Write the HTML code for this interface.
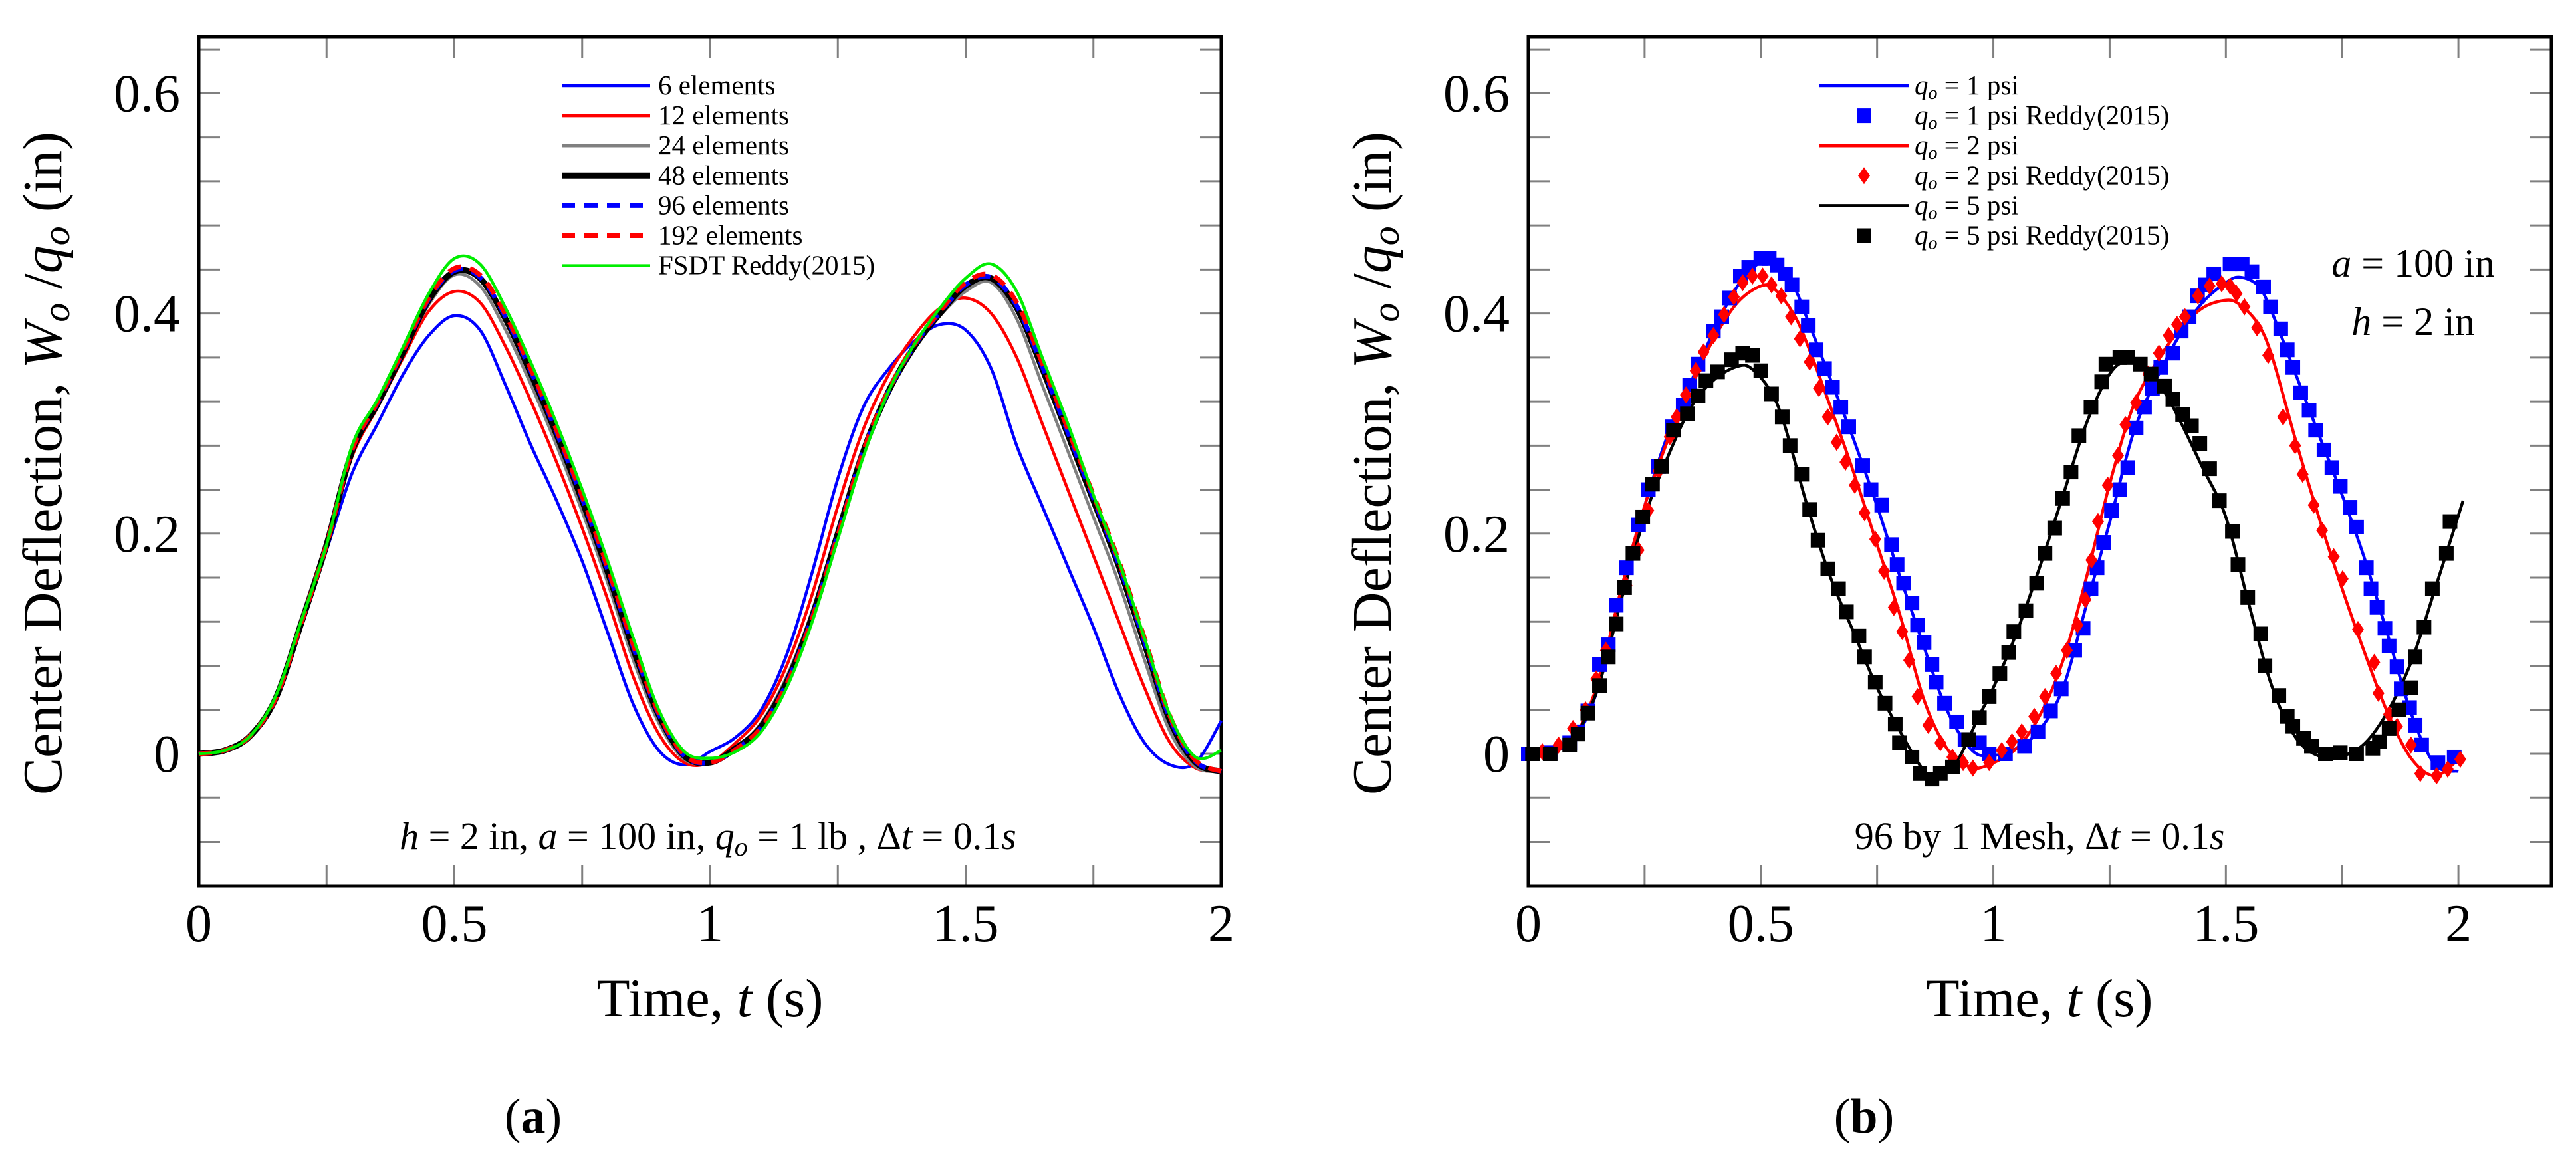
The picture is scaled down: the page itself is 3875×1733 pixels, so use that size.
<!DOCTYPE html>
<html><head><meta charset="utf-8">
<style>
html,body{margin:0;padding:0;background:#fff;}
svg{display:block;font-family:"Liberation Serif",serif;}
</style></head>
<body>
<svg id="fig" width="3875" height="1733" viewBox="0 0 3875 1733" xmlns="http://www.w3.org/2000/svg">
<rect width="3875" height="1733" fill="#fff"/>
<g id="panelA"></g>
<g id="panelB"></g>
</svg>
<script>
// ---------- Panel (a) data ----------
const tGridA = [0,0.05,0.1,0.15,0.2,0.25,0.3,0.35,0.4,0.45,0.5,0.55,0.6,0.65,0.7,0.75,0.8,0.85,0.9,0.95,1.0,1.05,1.1,1.15,1.2,1.25,1.3,1.35,1.4,1.45,1.5,1.55,1.6,1.65,1.7,1.75,1.8,1.85,1.9,1.95,2.0];
const w6 = [0,0.003,0.016,0.05,0.118,0.185,0.255,0.3,0.345,0.38,0.398,0.385,0.335,0.28,0.23,0.175,0.11,0.045,0.003,-0.01,0.002,0.015,0.04,0.09,0.165,0.25,0.315,0.35,0.375,0.39,0.385,0.35,0.28,0.225,0.17,0.115,0.055,0.01,-0.01,-0.008,0.03];
const w12 = [0,0.003,0.016,0.05,0.118,0.19,0.27,0.315,0.36,0.402,0.42,0.41,0.37,0.32,0.265,0.205,0.14,0.07,0.018,-0.008,-0.008,0.01,0.035,0.08,0.145,0.225,0.295,0.345,0.38,0.405,0.414,0.4,0.36,0.3,0.24,0.18,0.12,0.06,0.01,-0.013,-0.016];
const w24 = [0,0.003,0.016,0.05,0.118,0.19,0.275,0.318,0.363,0.408,0.435,0.425,0.385,0.335,0.28,0.22,0.155,0.085,0.028,-0.005,-0.008,0.005,0.028,0.07,0.13,0.205,0.278,0.33,0.37,0.398,0.42,0.428,0.395,0.335,0.275,0.215,0.155,0.085,0.02,-0.012,-0.016];
const w48 = [0,0.003,0.016,0.05,0.118,0.19,0.275,0.318,0.365,0.412,0.438,0.432,0.395,0.345,0.29,0.23,0.165,0.095,0.035,-0.002,-0.008,0.005,0.025,0.065,0.125,0.2,0.275,0.33,0.37,0.4,0.425,0.432,0.405,0.35,0.29,0.23,0.17,0.1,0.03,-0.008,-0.016];
const w96 = [0,0.003,0.016,0.05,0.118,0.19,0.276,0.319,0.366,0.413,0.439,0.433,0.397,0.347,0.292,0.232,0.167,0.097,0.036,-0.002,-0.008,0.004,0.024,0.064,0.124,0.199,0.275,0.33,0.371,0.401,0.426,0.433,0.407,0.352,0.292,0.232,0.172,0.102,0.032,-0.007,-0.016];
const w192 = [0,0.003,0.016,0.05,0.118,0.19,0.276,0.32,0.367,0.414,0.441,0.435,0.399,0.349,0.294,0.234,0.169,0.099,0.037,-0.001,-0.008,0.004,0.024,0.063,0.123,0.198,0.275,0.331,0.372,0.402,0.428,0.435,0.41,0.355,0.295,0.235,0.175,0.105,0.034,-0.006,-0.016];
const wFSDT = [0,0.003,0.016,0.052,0.12,0.19,0.28,0.322,0.37,0.418,0.45,0.445,0.405,0.355,0.3,0.24,0.175,0.105,0.04,0.002,-0.004,0.002,0.02,0.06,0.12,0.195,0.27,0.33,0.372,0.405,0.432,0.445,0.42,0.36,0.3,0.235,0.175,0.105,0.035,-0.003,0.003];

// ---------- Panel (b) data ----------
const tLineB = [0,0.05,0.1,0.15,0.2,0.25,0.3,0.35,0.4,0.45,0.5,0.53,0.57,0.6,0.65,0.7,0.75,0.8,0.85,0.9,0.95,0.99,1.05,1.1,1.15,1.2,1.25,1.3,1.35,1.4,1.45,1.5,1.53,1.57,1.6,1.65,1.7,1.75,1.8,1.85,1.9,1.95,2.0];
const wLine1 = [0,0.002,0.014,0.06,0.15,0.225,0.29,0.338,0.385,0.425,0.447,0.445,0.425,0.395,0.34,0.285,0.225,0.16,0.098,0.04,0.005,-0.002,0.005,0.022,0.06,0.135,0.21,0.29,0.34,0.38,0.41,0.428,0.433,0.425,0.4,0.345,0.29,0.235,0.175,0.105,0.035,-0.01,-0.016];
const wLine2 = [0,0.003,0.016,0.065,0.15,0.225,0.285,0.335,0.378,0.41,0.425,0.422,0.4,0.372,0.315,0.255,0.19,0.125,0.05,0.005,-0.012,-0.01,0.005,0.035,0.085,0.16,0.245,0.315,0.355,0.385,0.405,0.412,0.408,0.39,0.36,0.285,0.215,0.15,0.09,0.035,-0.005,-0.02,-0.005];
const tLine5 = [0,0.05,0.1,0.15,0.2,0.25,0.3,0.35,0.4,0.45,0.48,0.52,0.55,0.6,0.65,0.7,0.75,0.8,0.85,0.88,0.92,0.97,1.0,1.05,1.1,1.15,1.2,1.25,1.29,1.33,1.38,1.45,1.5,1.55,1.6,1.65,1.7,1.75,1.8,1.85,1.9,1.95,2.01];
const wLine5 = [0,0.003,0.016,0.06,0.14,0.215,0.27,0.315,0.34,0.352,0.35,0.33,0.3,0.225,0.16,0.11,0.06,0.02,-0.015,-0.02,-0.008,0.035,0.06,0.11,0.17,0.235,0.3,0.345,0.357,0.35,0.32,0.26,0.215,0.135,0.06,0.015,-0.002,-0.002,0.01,0.04,0.085,0.15,0.23];

const tMk1 = [0,0.047,0.089,0.107,0.128,0.153,0.172,0.189,0.211,0.237,0.258,0.28,0.309,0.333,0.347,0.365,0.398,0.416,0.433,0.456,0.474,0.5,0.518,0.535,0.553,0.567,0.588,0.602,0.619,0.637,0.654,0.672,0.689,0.719,0.737,0.76,0.781,0.793,0.807,0.825,0.837,0.851,0.868,0.877,0.895,0.921,0.939,0.97,0.991,1.026,1.067,1.096,1.123,1.146,1.175,1.193,1.21,1.223,1.237,1.254,1.272,1.289,1.307,1.325,1.342,1.36,1.386,1.404,1.421,1.439,1.456,1.474,1.509,1.535,1.556,1.581,1.596,1.618,1.632,1.644,1.661,1.679,1.693,1.711,1.728,1.746,1.767,1.781,1.802,1.812,1.825,1.842,1.851,1.868,1.877,1.895,1.907,1.921,1.956,1.991];
const wMk1 = [0,0.001,0.01,0.02,0.039,0.081,0.099,0.135,0.169,0.208,0.24,0.261,0.297,0.317,0.335,0.354,0.384,0.397,0.414,0.434,0.442,0.45,0.45,0.444,0.436,0.426,0.406,0.389,0.367,0.35,0.333,0.315,0.297,0.262,0.24,0.226,0.19,0.172,0.155,0.137,0.117,0.101,0.081,0.065,0.046,0.029,0.013,0.01,0,0,0.007,0.02,0.039,0.059,0.094,0.114,0.15,0.169,0.192,0.221,0.24,0.26,0.296,0.315,0.332,0.351,0.364,0.384,0.397,0.416,0.426,0.436,0.445,0.445,0.438,0.424,0.406,0.386,0.367,0.351,0.328,0.312,0.294,0.276,0.26,0.243,0.224,0.206,0.169,0.15,0.133,0.114,0.098,0.079,0.059,0.042,0.026,0.008,-0.008,-0.003];

const tMk2 = [0.03,0.065,0.096,0.123,0.146,0.167,0.188,0.211,0.237,0.258,0.28,0.304,0.319,0.339,0.36,0.377,0.398,0.421,0.442,0.461,0.482,0.504,0.523,0.544,0.565,0.584,0.605,0.625,0.644,0.663,0.682,0.702,0.723,0.746,0.765,0.786,0.804,0.819,0.837,0.86,0.886,0.912,0.935,0.956,0.991,1.018,1.04,1.061,1.088,1.111,1.135,1.158,1.181,1.198,1.211,1.225,1.246,1.268,1.284,1.307,1.333,1.356,1.377,1.395,1.412,1.44,1.465,1.491,1.509,1.523,1.54,1.567,1.591,1.623,1.649,1.665,1.689,1.707,1.732,1.751,1.784,1.819,1.828,1.851,1.868,1.898,1.918,1.953,1.977,2.004];
const wMk2 = [0.002,0.008,0.023,0.04,0.068,0.094,0.12,0.153,0.185,0.221,0.257,0.288,0.306,0.326,0.348,0.365,0.38,0.399,0.415,0.428,0.434,0.434,0.426,0.416,0.397,0.377,0.356,0.332,0.306,0.283,0.265,0.244,0.219,0.195,0.166,0.133,0.111,0.085,0.052,0.026,0.01,-0.003,-0.008,-0.013,-0.008,0.003,0.011,0.02,0.034,0.052,0.073,0.094,0.117,0.14,0.176,0.211,0.244,0.271,0.299,0.319,0.345,0.364,0.38,0.39,0.397,0.416,0.425,0.427,0.425,0.418,0.406,0.387,0.362,0.306,0.28,0.254,0.226,0.203,0.179,0.159,0.113,0.083,0.055,0.036,0.025,0.008,-0.018,-0.02,-0.014,-0.005];

const tMk5 = [0.009,0.047,0.089,0.107,0.128,0.153,0.172,0.189,0.207,0.225,0.246,0.267,0.286,0.312,0.342,0.365,0.382,0.407,0.437,0.461,0.482,0.5,0.523,0.546,0.563,0.588,0.605,0.623,0.644,0.667,0.684,0.711,0.723,0.746,0.767,0.789,0.798,0.825,0.842,0.868,0.886,0.912,0.947,0.97,0.991,1.014,1.033,1.044,1.07,1.093,1.111,1.132,1.149,1.167,1.184,1.21,1.233,1.242,1.272,1.289,1.316,1.339,1.368,1.386,1.407,1.426,1.444,1.465,1.486,1.514,1.526,1.547,1.575,1.584,1.614,1.632,1.644,1.667,1.684,1.714,1.746,1.781,1.816,1.83,1.851,1.872,1.898,1.907,1.926,1.944,1.974,1.982];
const wMk5 = [0,0,0.008,0.018,0.037,0.062,0.088,0.118,0.151,0.182,0.215,0.245,0.261,0.294,0.309,0.325,0.339,0.347,0.358,0.364,0.362,0.348,0.327,0.306,0.28,0.254,0.222,0.194,0.168,0.15,0.129,0.107,0.088,0.065,0.046,0.027,0.01,-0.003,-0.018,-0.023,-0.018,-0.012,0.013,0.033,0.052,0.073,0.092,0.111,0.13,0.155,0.182,0.205,0.232,0.256,0.289,0.315,0.338,0.354,0.36,0.36,0.354,0.345,0.334,0.322,0.308,0.298,0.282,0.259,0.23,0.202,0.172,0.142,0.109,0.08,0.053,0.034,0.025,0.014,0.007,0,0.001,0,0.005,0.011,0.023,0.04,0.06,0.088,0.115,0.15,0.182,0.211];

const yTickVals = [0,0.2,0.4,0.6];
const yTickLabels = ["0","0.2","0.4","0.6"];
const xTickVals = [0,0.5,1,1.5,2];
const xTickLabels = ["0","0.5","1","1.5","2"];

// ---------- helpers ----------
const NS = "http://www.w3.org/2000/svg";
function mk(tag, attrs, parent){ const e=document.createElementNS(NS,tag); for(const k in attrs) e.setAttribute(k,attrs[k]); parent.appendChild(e); return e; }

const Y0 = 1134, PXY = 1656;
function makeAxes(L, R, xmax){
  return { x: v => L + (R-L)*v/xmax, y: v => Y0 - PXY*v, L, R, T:55, B:1333 };
}
function drawFrame(g, ax, xmax){
  const tg = mk('g',{stroke:'#808080','stroke-width':3},g);
  
  
  for(let i=0;i*0.25<=xmax+1e-9;i++){
    const v=i*0.25, x=ax.x(v);
    mk('line',{x1:x,y1:ax.B,x2:x,y2:ax.B-32},tg);
    mk('line',{x1:x,y1:ax.T,x2:x,y2:ax.T+32},tg);
  }
  for(let i=-2;i<=16;i++){
    const v=i*0.04, y=ax.y(v);
    if(y<ax.T||y>ax.B) continue;
    mk('line',{x1:ax.L,y1:y,x2:ax.L+32,y2:y},tg);
    mk('line',{x1:ax.R,y1:y,x2:ax.R-32,y2:y},tg);
  }
  const fr = mk('rect',{x:ax.L,y:ax.T,width:ax.R-ax.L,height:ax.B-ax.T,fill:'none',stroke:'#000','stroke-width':5},g);
  
  
  xTickVals.forEach((v,i)=>{
    const t = mk('text',{x:ax.x(v),y:1416,'font-size':80,'text-anchor':'middle'},g);
    t.textContent = xTickLabels[i];
    
    
  });
  yTickVals.forEach((v,i)=>{
    const t = mk('text',{x:ax.L-28,y:ax.y(v)+27,'font-size':80,'text-anchor':'end'},g);
    t.textContent = yTickLabels[i];
    
    
  });
}
function smoothPath(pts){
  let d = 'M'+pts[0][0].toFixed(1)+','+pts[0][1].toFixed(1);
  for(let i=0;i<pts.length-1;i++){
    const p0=pts[Math.max(0,i-1)], p1=pts[i], p2=pts[i+1], p3=pts[Math.min(pts.length-1,i+2)];
    const c1x=p1[0]+(p2[0]-p0[0])/6, c1y=p1[1]+(p2[1]-p0[1])/6;
    const c2x=p2[0]-(p3[0]-p1[0])/6, c2y=p2[1]-(p3[1]-p1[1])/6;
    d += ` C${c1x.toFixed(1)},${c1y.toFixed(1)} ${c2x.toFixed(1)},${c2y.toFixed(1)} ${p2[0].toFixed(1)},${p2[1].toFixed(1)}`;
  }
  return d;
}
function line(g, ax, ts, ws, color, w, dash, name){
  const pts = ts.map((t,i)=>[ax.x(t), ax.y(ws[i])]);
  const p = mk('path',{d:smoothPath(pts),fill:'none',stroke:color,'stroke-width':w,'stroke-linejoin':'round'},g);
  if(dash) p.setAttribute('stroke-dasharray',dash);
  
  
  return p;
}
function squares(g, ax, ts, ws, color, name){
  const gg = mk('g',{fill:color},g);
  
  
  ts.forEach((t,i)=>{ mk('rect',{x:ax.x(t)-11,y:ax.y(ws[i])-11,width:22,height:22},gg); });
}
function diamonds(g, ax, ts, ws, color, name){
  const gg = mk('g',{fill:color},g);
  
  
  ts.forEach((t,i)=>{ const x=ax.x(t), y=ax.y(ws[i]);
    mk('path',{d:`M${x},${y-13} L${x+9},${y} L${x},${y+13} L${x-9},${y} Z`},gg); });
}

// ---------- Panel A ----------
const gA = document.getElementById('panelA');
const axA = makeAxes(299, 1837, 2);
drawFrame(gA, axA, 2);
const plotA = mk('g',{},gA);


line(plotA, axA, tGridA, w6, '#0000ff', 4.5, null, 'series-6-elements');
line(plotA, axA, tGridA, w12, '#ff0000', 4.5, null, 'series-12-elements');
line(plotA, axA, tGridA, w24, '#808080', 4.5, null, 'series-24-elements');
line(plotA, axA, tGridA, w48, '#000000', 9, null, 'series-48-elements');
line(plotA, axA, tGridA, w96, '#0000ff', 7, '20 14', 'series-96-elements');
line(plotA, axA, tGridA, w192, '#ff0000', 7, '20 14', 'series-192-elements');
line(plotA, axA, tGridA, wFSDT, '#00ee00', 4.5, null, 'series-fsdt-reddy');

const legA = [
  ['6 elements','#0000ff',4.5,null],['12 elements','#ff0000',4.5,null],['24 elements','#808080',4.5,null],
  ['48 elements','#000000',9,null],['96 elements','#0000ff',7,'20 14'],['192 elements','#ff0000',7,'20 14'],
  ['FSDT Reddy(2015)','#00ee00',4.5,null]];
const legAg = mk('g',{},gA);


legA.forEach((e,i)=>{
  const y = 129 + i*45.1;
  const l = mk('line',{x1:845,y1:y,x2:978,y2:y,stroke:e[1],'stroke-width':e[2]},legAg);
  if(e[3]) l.setAttribute('stroke-dasharray',e[3]);
  
  
  const t = mk('text',{x:990,y:y+13,'font-size':41},legAg);
  t.textContent = e[0];
  
  
});

gA.insertAdjacentHTML('beforeend',
 `<text x="1065" y="1277" font-size="58" text-anchor="middle"><tspan font-style="italic">h</tspan> = 2 in, <tspan font-style="italic">a</tspan> = 100 in, <tspan font-style="italic">q</tspan><tspan font-style="italic" font-size="40" dy="10">o</tspan><tspan dy="-10"> = 1 lb , Δ</tspan><tspan font-style="italic">t</tspan> = 0.1<tspan font-style="italic">s</tspan></text>
 <text x="1068" y="1529" font-size="82" text-anchor="middle">Time, <tspan font-style="italic">t</tspan> (s)</text>
 <text transform="translate(92,697) rotate(-90)" font-size="84" text-anchor="middle">Center Deflection, <tspan font-style="italic">W</tspan><tspan font-style="italic" font-size="58" dy="12">o</tspan><tspan dy="-12"> /</tspan><tspan font-style="italic">q</tspan><tspan font-style="italic" font-size="58" dy="12">o</tspan><tspan dy="-12"> (in)</tspan></text>
 <text x="802" y="1704" font-size="74" text-anchor="middle">(<tspan font-weight="bold">a</tspan>)</text>`);

// ---------- Panel B ----------
const gB = document.getElementById('panelB');
const axB = makeAxes(2299, 3838, 2.2);
drawFrame(gB, axB, 2.2);
const plotB = mk('g',{},gB);


line(plotB, axB, tLineB, wLine1, '#0000ff', 4.5, null, 'series-q1-line');
line(plotB, axB, tLineB, wLine2, '#ff0000', 4.5, null, 'series-q2-line');
line(plotB, axB, tLine5, wLine5, '#000000', 4.5, null, 'series-q5-line');
squares(plotB, axB, tMk1, wMk1, '#0000ff', 'series-q1-reddy-markers');
diamonds(plotB, axB, tMk2, wMk2, '#ff0000', 'series-q2-reddy-markers');
squares(plotB, axB, tMk5, wMk5, '#000000', 'series-q5-reddy-markers');

const legBg = mk('g',{},gB);


const legB = [['1 psi','#0000ff','line'],['1 psi Reddy(2015)','#0000ff','sq'],['2 psi','#ff0000','line'],['2 psi Reddy(2015)','#ff0000','dm'],['5 psi','#000000','line'],['5 psi Reddy(2015)','#000000','sq']];
legB.forEach((e,i)=>{
  const y = 129 + i*45.1;
  let s;
  if(e[2]==='line') s = mk('line',{x1:2737,y1:y,x2:2872,y2:y,stroke:e[1],'stroke-width':4.5},legBg);
  else if(e[2]==='sq') s = mk('rect',{x:2793,y:y-11,width:22,height:22,fill:e[1]},legBg);
  else s = mk('path',{d:`M2804,${y-13} L2813,${y} L2804,${y+13} L2795,${y} Z`,fill:e[1]},legBg);
  
  
  const t = mk('text',{x:2880,y:y+13,'font-size':41},legBg);
  t.innerHTML = `<tspan font-style="italic">q</tspan><tspan font-style="italic" font-size="28" dy="7">o</tspan><tspan dy="-7"> = ${e[0]}</tspan>`;
  
  
});

gB.insertAdjacentHTML('beforeend',
 `<text x="3068" y="1277" font-size="58" text-anchor="middle">96 by 1 Mesh, Δ<tspan font-style="italic">t</tspan> = 0.1<tspan font-style="italic">s</tspan></text>
 <text x="3630" y="416" font-size="60" text-anchor="middle"><tspan font-style="italic">a</tspan> = 100 in</text>
 <text x="3630" y="504" font-size="60" text-anchor="middle"><tspan font-style="italic">h</tspan> = 2 in</text>
 <text x="3068" y="1529" font-size="82" text-anchor="middle">Time, <tspan font-style="italic">t</tspan> (s)</text>
 <text transform="translate(2092,697) rotate(-90)" font-size="84" text-anchor="middle">Center Deflection, <tspan font-style="italic">W</tspan><tspan font-style="italic" font-size="58" dy="12">o</tspan><tspan dy="-12"> /</tspan><tspan font-style="italic">q</tspan><tspan font-style="italic" font-size="58" dy="12">o</tspan><tspan dy="-12"> (in)</tspan></text>
 <text x="2804" y="1704" font-size="74" text-anchor="middle">(<tspan font-weight="bold">b</tspan>)</text>`);
</script>
</body></html>
